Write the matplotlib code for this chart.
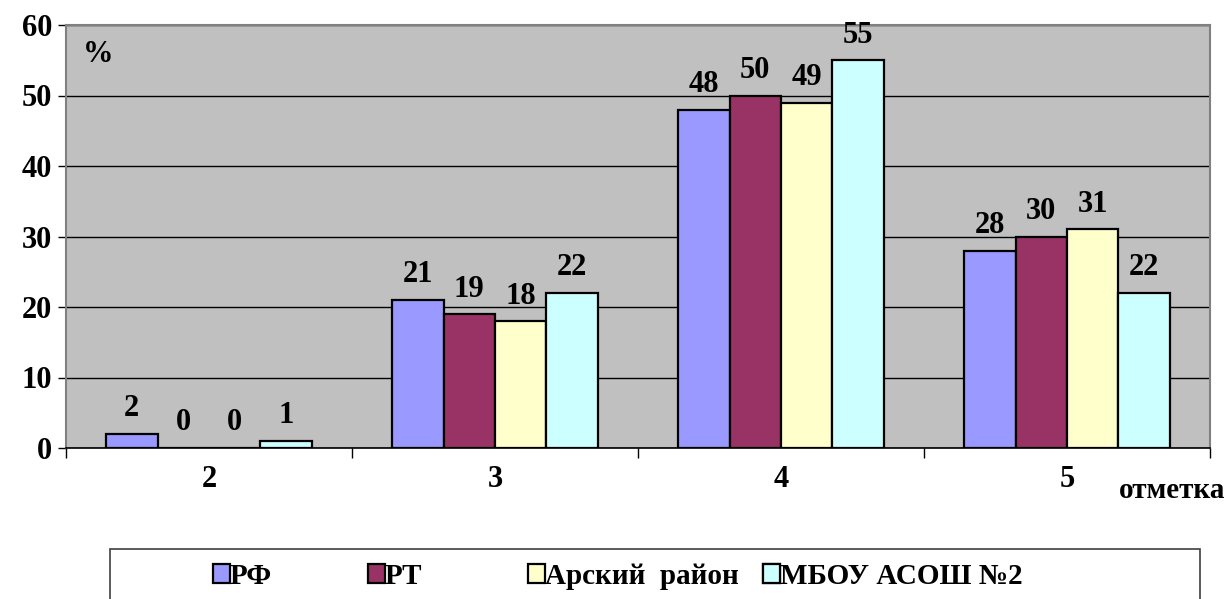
import matplotlib
matplotlib.use("Agg")
import matplotlib.pyplot as plt
import numpy as np
from matplotlib.patches import Rectangle

plt.rcParams['font.family'] = ['Liberation Serif', 'DejaVu Serif']
plt.rcParams['font.weight'] = 'bold'

# data
grades = ['2', '3', '4', '5']
series_names = ['РФ', 'РТ', 'Арский  район', 'МБОУ АСОШ №2']
rf = [2, 21, 48, 28]
rt = [0, 19, 50, 30]
arsk = [0, 18, 49, 31]
school = [1, 22, 55, 22]
colors = ['#9999FF', '#993366', '#FFFFCC', '#CCFFFF']

fig = plt.figure(figsize=(12.3, 5.99), dpi=100)
ax = fig.add_axes([66 / 1230, 1 - 448 / 599, (1210 - 66) / 1230, (448 - 25) / 599])
ax.set_facecolor('#C0C0C0')

x = np.arange(len(grades))
w = 0.18
all_series = [rf, rt, arsk, school]
handles = []
for i, vals in enumerate(all_series):
    pos = x + (i - 1.5) * w
    b = ax.bar(pos, vals, w, color=colors[i], edgecolor='black', linewidth=1.6,
               label=series_names[i], zorder=3)
    handles.append(b)
    for px, v in zip(pos, vals):
        ax.annotate(str(v), (px, v), xytext=(0, 18), textcoords='offset points',
                    ha='center', va='center', fontsize=22, fontweight='bold')

ax.set_ylim(0, 60)
ax.set_xlim(-0.5, 3.5)
ax.set_yticks(range(0, 61, 10))
ax.tick_params(axis='y', labelsize=22, length=6, width=1, direction='out', pad=4)
ax.yaxis.grid(True, color='black', linewidth=1, zorder=0)
ax.set_axisbelow(True)

ax.set_xticks(np.arange(-0.5, 4, 1))
ax.set_xticklabels([])
ax.set_xticks(x, minor=True)
ax.set_xticklabels(grades, minor=True)
ax.tick_params(axis='x', which='major', length=7, width=1, direction='out')
ax.tick_params(axis='x', which='minor', length=0, labelsize=22, pad=12)

for s in ['left', 'top', 'right']:
    ax.spines[s].set_color('#808080')
    ax.spines[s].set_linewidth(1.5)
ax.spines['bottom'].set_color('black')
ax.spines['bottom'].set_linewidth(1.2)

ax.text(0.015, 0.965, '%', transform=ax.transAxes, fontsize=22, fontweight='bold',
        ha='left', va='top')
fig.text(1172 / 1230, 1 - 490 / 599, 'отметка', fontsize=21, fontweight='bold',
         ha='center', va='center')

# legend box (drawn under the axes so the legend marks sit on top)
fig.patches.append(Rectangle((110 / 1230, -0.05), (1200 - 110) / 1230, 0.05 + (599 - 549) / 599,
                             transform=fig.transFigure, facecolor='white',
                             edgecolor='#404040', linewidth=1.2, zorder=-1))
# legend: colour squares from the bar handles, names as plain serif text
legend_x = [213, 368, 528, 763]
leg_y = 1 - 577 / 599
for h, name, lx in zip(handles, series_names, legend_x):
    leg = ax.legend(handles=[h], labels=[''], loc='center left',
                    bbox_to_anchor=(lx / 1230, leg_y),
                    bbox_transform=fig.transFigure, frameon=False,
                    fontsize=22, handlelength=0.55, handleheight=0.55,
                    handletextpad=0, borderpad=0, borderaxespad=0)
    ax.add_artist(leg)
    fig.text((lx + 17) / 1230, leg_y, name, fontsize=21, fontweight='bold',
             ha='left', va='center')

fig.savefig('out.png', dpi=100)
